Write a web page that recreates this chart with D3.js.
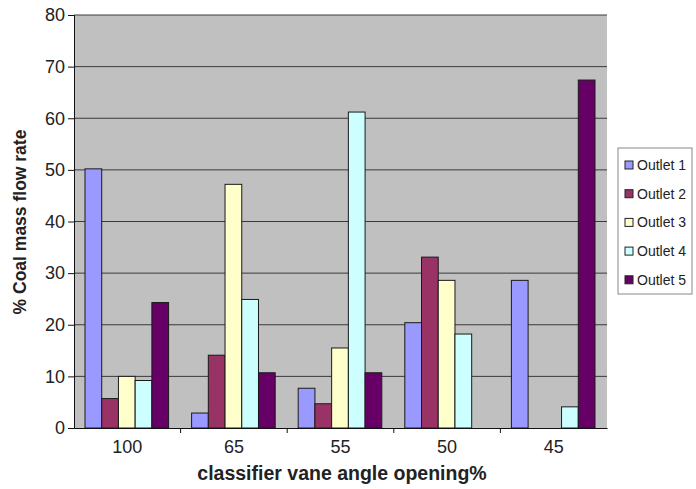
<!DOCTYPE html>
<html>
<head>
<meta charset="utf-8">
<script src="https://cdn.jsdelivr.net/npm/d3@7"></script>
<style>
  body { margin: 0; background: #fff; }
  text { font-family: "Liberation Sans", Arial, sans-serif; fill: #222; }
</style>
</head>
<body>
<div id="chart"></div>
<script>
// categories and series
const categories = ['100', '65', '55', '50', '45'];
const outlets = ['Outlet 1', 'Outlet 2', 'Outlet 3', 'Outlet 4', 'Outlet 5'];
const outlet1 = [50.2, 2.9, 7.7, 20.4, 28.6];
const outlet2 = [5.7, 14.1, 4.7, 33.1, 0];
const outlet3 = [10.0, 47.2, 15.5, 28.6, 0];
const outlet4 = [9.2, 24.9, 61.2, 18.2, 4.1];
const outlet5 = [24.3, 10.7, 10.7, 0, 67.4];
const yTicks = [0, 10, 20, 30, 40, 50, 60, 70, 80];
const colors = ['#9999ff', '#993366', '#ffffcc', '#ccffff', '#660066'];

const series = [outlet1, outlet2, outlet3, outlet4, outlet5];

const width = 696, height = 489;
const margin = { top: 15, right: 89, bottom: 61, left: 74 };
const innerW = width - margin.left - margin.right;
const innerH = height - margin.top - margin.bottom;

const svg = d3.select('#chart').append('svg')
  .attr('width', width).attr('height', height);

const g = svg.append('g').attr('transform', `translate(${margin.left},${margin.top})`);

// scales
const x0 = d3.scaleBand().domain(categories).range([0, innerW]).paddingInner(0).paddingOuter(0);
const x1 = d3.scaleBand().domain(outlets).range([11, x0.bandwidth() - 12]);
const y = d3.scaleLinear().domain([0, 80]).range([innerH, 0]);

// plot background
g.append('rect')
  .attr('width', innerW).attr('height', innerH)
  .attr('fill', '#c0c0c0');

// gridlines
g.append('g').selectAll('line')
  .data(yTicks.slice(1))
  .join('line')
  .attr('x1', 0).attr('x2', innerW)
  .attr('y1', d => y(d)).attr('y2', d => y(d))
  .attr('stroke', '#3a3a3a').attr('stroke-width', 1);

// bars
const rows = categories.map((c, i) => ({ cat: c, vals: series.map((s, j) => ({ name: outlets[j], v: s[i], color: colors[j] })) }));

g.append('g').selectAll('g')
  .data(rows)
  .join('g')
  .attr('transform', d => `translate(${x0(d.cat)},0)`)
  .selectAll('rect')
  .data(d => d.vals.filter(v => v.v > 0))
  .join('rect')
  .attr('x', d => x1(d.name))
  .attr('y', d => y(d.v))
  .attr('width', x1.bandwidth())
  .attr('height', d => innerH - y(d.v))
  .attr('fill', d => d.color)
  .attr('stroke', '#1a1a1a')
  .attr('stroke-width', 1);

// axes
const yAxis = d3.axisLeft(y).tickValues(yTicks).tickSize(6).tickPadding(3);
const yAxisG = g.append('g').call(yAxis);
yAxisG.select('.domain').attr('stroke', '#111');
yAxisG.selectAll('.tick line').attr('stroke', '#111');
yAxisG.selectAll('text').attr('font-size', 18).attr('fill', '#222')
  .style('font-family', '"Liberation Sans", Arial, sans-serif');

const xAxis = d3.axisBottom(x0).tickSize(0).tickPadding(12);
const xAxisG = g.append('g').attr('transform', `translate(0,${innerH})`).call(xAxis);
xAxisG.select('.domain').attr('stroke', '#111');
xAxisG.selectAll('text').attr('font-size', 18).attr('fill', '#222')
  .style('font-family', '"Liberation Sans", Arial, sans-serif');

// category separator ticks
g.append('g').selectAll('line')
  .data(categories.slice(1))
  .join('line')
  .attr('x1', d => x0(d)).attr('x2', d => x0(d))
  .attr('y1', innerH).attr('y2', innerH + 5)
  .attr('stroke', '#111');

// axis labels
svg.append('text')
  .attr('text-anchor', 'middle')
  .attr('x', 342).attr('y', 480)
  .attr('font-size', 19.5).attr('font-weight', 'bold')
  .text('classifier vane angle opening%');

svg.append('text')
  .attr('text-anchor', 'middle')
  .attr('transform', 'rotate(-90)')
  .attr('x', -222).attr('y', 26)
  .attr('font-size', 17.5).attr('font-weight', 'bold')
  .text('% Coal mass flow rate');

// legend
const legend = svg.append('g').attr('transform', 'translate(618,148)');
legend.append('rect')
  .attr('width', 74).attr('height', 146)
  .attr('fill', '#fff').attr('stroke', '#888');

const items = legend.selectAll('g')
  .data(outlets)
  .join('g')
  .attr('transform', (d, i) => `translate(7,${17 + i * 28.7})`);
items.append('rect')
  .attr('x', 0).attr('y', -4)
  .attr('width', 8).attr('height', 8)
  .attr('fill', (d, i) => colors[i]).attr('stroke', '#222');
items.append('text')
  .attr('x', 12).attr('y', 5)
  .attr('font-size', 14)
  .text(d => d);
</script>
</body>
</html>
